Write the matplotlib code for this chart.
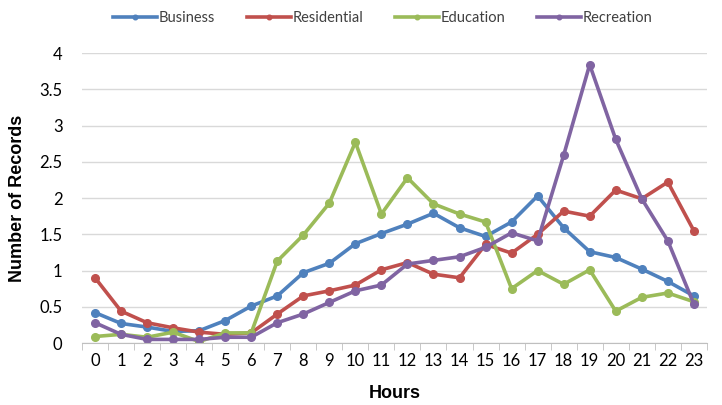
import numpy as np
import matplotlib.pyplot as plt

# Data
hours = np.arange(24)
business = [0.42, 0.27, 0.22, 0.16, 0.17, 0.31, 0.51, 0.65, 0.97, 1.10, 1.37, 1.51,
            1.64, 1.79, 1.59, 1.47, 1.67, 2.03, 1.59, 1.26, 1.18, 1.02, 0.85, 0.65]
residential = [0.90, 0.44, 0.28, 0.21, 0.15, 0.12, 0.14, 0.40, 0.65, 0.72, 0.80, 1.01,
               1.11, 0.95, 0.90, 1.36, 1.24, 1.50, 1.82, 1.75, 2.11, 1.99, 2.22, 1.55]
education = [0.09, 0.12, 0.08, 0.15, 0.02, 0.14, 0.14, 1.13, 1.49, 1.93, 2.77, 1.78,
             2.28, 1.92, 1.78, 1.67, 0.75, 1.00, 0.81, 1.01, 0.44, 0.63, 0.69, 0.57]
recreation = [0.28, 0.12, 0.05, 0.05, 0.05, 0.08, 0.08, 0.28, 0.40, 0.56, 0.72, 0.80,
              1.09, 1.14, 1.19, 1.32, 1.52, 1.41, 2.59, 3.84, 2.81, 1.99, 1.41, 0.54]

series = [("Business", business, "#4F81BD"),
          ("Residential", residential, "#C0504D"),
          ("Education", education, "#9BBB59"),
          ("Recreation", recreation, "#8064A2")]

plt.rcParams['font.family'] = ['Lato', 'DejaVu Sans']

fig = plt.figure(figsize=(7.22, 4.05), dpi=100)
ax = fig.add_axes([0.1136, 0.153, 0.8654, 0.716])

for name, vals, col in series:
    ax.plot(hours, vals, '-o', color=col, lw=2.6, ms=5.5, label=name)

ax.set_xlim(-0.5, 23.5)
ax.set_ylim(0, 4)
ax.set_yticks(np.arange(0, 4.01, 0.5))
ax.set_yticklabels(["0", "0.5", "1", "1.5", "2", "2.5", "3", "3.5", "4"])
ax.set_xticks(hours)
ax.set_xticks(np.arange(-0.5, 24, 1), minor=True)

ax.grid(axis='y', color='#D9D9D9', lw=1)
ax.set_axisbelow(True)
for s in ['top', 'right', 'left']:
    ax.spines[s].set_visible(False)
ax.spines['bottom'].set_color('#BFBFBF')
ax.tick_params(axis='x', which='major', length=0, labelsize=12, pad=7)
ax.tick_params(axis='x', which='minor', length=5, color='#BFBFBF')
ax.tick_params(axis='y', length=0, labelsize=12, pad=14)

lab_font = ['Liberation Sans', 'DejaVu Sans']
ax.set_xlabel("Hours", fontsize=13, fontweight='bold', family=lab_font, labelpad=12)
ax.set_ylabel("Number of Records", fontsize=13, fontweight='bold', family=lab_font, labelpad=10)

fig.legend(loc='center', bbox_to_anchor=(0.53, 0.955), ncol=4, frameon=False,
           fontsize=10.5, handlelength=3, handletextpad=0.1, columnspacing=2.2,
           markerscale=0.6, labelcolor='#404040')

fig.savefig("out.png", dpi=100)
